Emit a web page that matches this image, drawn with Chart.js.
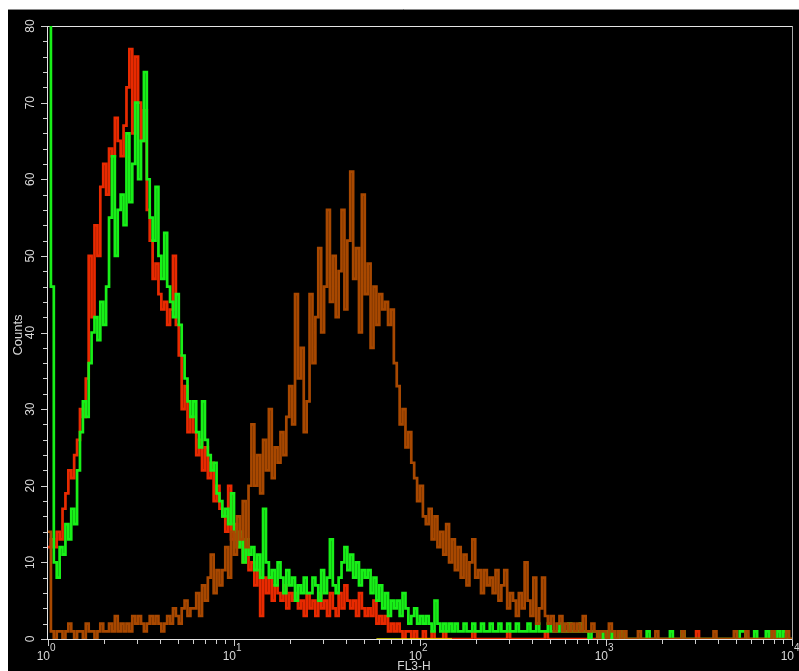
<!DOCTYPE html>
<html><head><meta charset="utf-8">
<script src="https://cdn.jsdelivr.net/npm/chart.js@4.4.1/dist/chart.umd.min.js"></script>
<style>html,body{margin:0;padding:0;background:#fff;}canvas{display:block;}</style>
</head><body>
<canvas id="c" width="799" height="671"></canvas>
<script>
// Histogram resolution: 256 channels spread over 4 log decades (10^0 .. 10^4)
const channelsPerDecade = 64;
const decadeCount = 4;
const xDecadeBase = ['10', '10', '10', '10', '10'];
const xDecadeExp = ['0', '1', '2', '3', '4'];
const yTickLabels = ['0', '10', '20', '30', '40', '50', '60', '70', '80'];
const yMax = 80;
const yMinorStep = 2;
const xTitle = 'FL3-H';
const yTitle = 'Counts';
const gateChannels = [113, 139];

const redCounts = [
  12,13,12,14,13,17,19,22,21,24,
  26,30,29,34,50,42,54,50,59,62,
  58,64,63,68,65,63,67,72,77,66,
  76,70,65,69,56,52,47,49,45,43,
  44,41,43,50,41,37,30,33,27,29,
  27,24,26,22,25,21,23,18,20,17,
  16,14,20,13,15,12,14,10,12,9,
  10,7,9,3,8,6,8,5,7,6,
  5,7,4,6,5,6,4,5,3,6,
  4,5,3,6,4,5,3,6,4,3,
  6,4,7,5,4,5,3,6,4,3,
  4,3,5,2,3,2,3,1,2,1,
  2,1,0,1,1,0,1,0,0,1,
  0,0,1,0,0,0,1,0,0,0,
  0,0,0,0,0,0,1,0,0,0,
  0,0,0,0,0,0,0,0,1,0,
  0,0,0,0,0,0,0,0,0,0,
  0,1,0,0,0,0,0,0,0,0,
  0,0,0,0,0,0,0,0,0,0,
  0,0,0,0,0,0,0,0,0,0,
  0,0,0,0,0,0,0,0,0,0,
  0,0,0,0,0,0,0,0,0,0,
  0,0,0,1,0,0,0,0,0,0,
  0,0,0,0,0,0,0,0,0,0,
  0,0,0,0,0,0,0,0,0,0,
  0,0,0,0,0,0
];

const greenCounts = [
  120,46,10,8,12,11,15,13,17,15,
  22,27,31,29,36,40,42,39,44,41,
  46,55,63,50,56,58,54,66,57,62,
  70,60,65,74,60,55,52,59,50,47,
  53,46,44,42,45,41,37,34,31,29,
  31,27,25,31,26,24,22,23,19,18,
  16,17,15,19,14,12,14,10,13,11,
  12,9,11,8,17,10,8,9,7,10,
  8,6,9,7,8,5,7,6,8,6,
  6,8,7,5,9,6,8,13,7,6,
  8,10,12,9,11,8,10,7,9,8,
  9,6,8,5,7,4,6,3,5,4,
  5,3,6,4,2,3,4,2,3,2,
  3,2,1,5,2,1,2,1,2,1,
  2,1,1,2,1,1,2,1,1,2,
  1,1,2,1,1,2,1,1,2,1,
  1,2,1,1,1,2,1,1,2,1,
  1,1,2,1,1,1,2,1,1,2,
  1,1,1,2,1,1,0,1,1,0,
  1,0,1,0,1,0,0,1,0,0,
  0,0,0,0,0,0,1,0,0,0,
  0,0,0,0,1,0,0,0,1,0,
  0,0,0,0,0,0,0,0,0,0,
  0,0,0,0,0,0,0,0,1,1,
  0,0,0,1,0,0,0,1,0,1,
  0,1,0,1,0,0
];

const brownCounts = [
  14,1,0,1,1,0,1,2,1,0,
  1,1,0,2,1,1,0,1,2,1,
  1,2,1,3,1,2,1,2,1,3,
  2,3,2,1,2,3,2,3,2,1,
  2,3,2,4,3,2,4,5,3,4,
  4,6,3,7,5,8,11,6,9,7,
  9,12,8,14,11,16,13,18,12,20,
  28,20,24,19,26,22,30,21,25,23,
  27,24,29,33,28,45,34,38,27,31,
  45,36,42,51,40,46,56,44,50,42,
  48,56,43,52,61,47,51,40,58,45,
  49,38,46,41,45,43,44,41,43,36,
  33,28,30,25,27,23,21,18,20,16,
  15,17,13,16,12,14,11,15,10,13,
  9,12,8,11,7,10,13,8,9,6,
  9,7,8,6,9,5,7,9,4,6,
  5,3,6,4,10,5,3,8,2,4,
  8,3,2,3,1,2,3,1,2,1,
  2,1,2,1,3,1,1,2,1,0,
  1,1,0,2,1,0,1,0,1,0,
  0,0,0,1,0,0,0,0,0,1,
  0,0,0,0,0,0,0,0,1,0,
  0,0,0,0,0,0,0,0,0,1,
  0,0,0,0,0,0,1,0,0,0,
  1,0,0,0,0,0,0,0,0,1,
  0,0,0,0,1,0
];

function toPoints(arr) {
  const pts = arr.map((v, i) => ({ x: i, y: v }));
  pts.push({ x: arr.length, y: arr[arr.length - 1] });
  return pts;
}

const txtColor = '#d8d8d8';
const axisColor = '#e4e4e4';
const numFont = "12px 'Liberation Sans', Arial, sans-serif";
const supFont = "10px 'Liberation Sans', Arial, sans-serif";
const titleFont = "12px 'Liberation Sans Narrow', 'Liberation Sans', Arial, sans-serif";

const decor = {
  id: 'decor',
  beforeDraw(chart) {
    const { ctx, width, height } = chart;
    ctx.save();
    ctx.fillStyle = '#fff';
    ctx.fillRect(0, 0, width, height);
    ctx.fillStyle = '#000';
    ctx.fillRect(8, 9, width - 8, height - 9);
    ctx.strokeStyle = '#8a8a8a';
    ctx.lineWidth = 1;
    ctx.beginPath(); ctx.moveTo(8, 9.5); ctx.lineTo(width, 9.5); ctx.stroke();
    ctx.restore();
  },
  beforeDatasetsDraw(chart) {
    const { ctx, chartArea: a, scales } = chart;
    const xs = scales.x, ys = scales.y;
    const ln = (x1, y1, x2, y2) => { ctx.beginPath(); ctx.moveTo(x1, y1); ctx.lineTo(x2, y2); ctx.stroke(); };
    ctx.save();
    ctx.lineWidth = 1;
    ctx.strokeStyle = axisColor;
    ln(a.left, a.top + 0.5, a.right, a.top + 0.5);
    ln(a.left - 0.5, a.top, a.left - 0.5, a.bottom + 1);
    ln(a.left - 1, a.bottom + 0.5, a.right + 1, a.bottom + 0.5);
    ctx.strokeStyle = '#a8a8a8';
    ln(a.right + 0.5, a.top, a.right + 0.5, a.bottom + 1);

    // y ticks
    ctx.strokeStyle = '#cfcfcf';
    for (let v = 0; v <= yMax; v += yMinorStep) {
      const py = Math.round(ys.getPixelForValue(v)) + 0.5;
      const len = v % 10 === 0 ? 6 : 4;
      ln(a.left - 1 - len, py, a.left - 1, py);
    }
    // x ticks
    for (let d = 0; d <= decadeCount; d++) {
      const px = Math.round(xs.getPixelForValue(d * channelsPerDecade)) + 0.5;
      ln(px, a.bottom + 1, px, a.bottom + 7);
      if (d < decadeCount) {
        for (let k = 2; k <= 9; k++) {
          const mx = Math.round(xs.getPixelForValue((d + Math.log10(k)) * channelsPerDecade)) + 0.5;
          ln(mx, a.bottom + 1, mx, a.bottom + 5);
        }
      }
    }

    // y labels (rotated)
    ctx.fillStyle = txtColor;
    ctx.font = numFont;
    ctx.textAlign = 'center';
    ctx.textBaseline = 'middle';
    yTickLabels.forEach(lab => {
      const py = ys.getPixelForValue(Number(lab));
      ctx.save();
      ctx.translate(31, py);
      ctx.rotate(-Math.PI / 2);
      ctx.fillText(lab, 0, 0);
      ctx.restore();
    });
    // y title
    ctx.save();
    ctx.font = "13px 'Liberation Sans Narrow', 'Liberation Sans', Arial, sans-serif";
    ctx.translate(18, 335);
    ctx.rotate(-Math.PI / 2);
    ctx.fillText(yTitle, 0, 0);
    ctx.restore();

    // x labels with superscripts
    ctx.textBaseline = 'alphabetic';
    xDecadeBase.forEach((base, d) => {
      const px = xs.getPixelForValue(d * channelsPerDecade);
      ctx.font = numFont;
      ctx.textAlign = 'right';
      ctx.fillText(base, px + 2, 660);
      ctx.font = supFont;
      ctx.textAlign = 'left';
      ctx.fillText(xDecadeExp[d], px + 2, 651);
    });
    // x title
    ctx.font = titleFont;
    ctx.textAlign = 'center';
    ctx.fillText(xTitle, 414, 670);
    ctx.restore();
  }
};

const common = { stepped: true, pointRadius: 0, borderWidth: 2.7, fill: false, tension: 0, borderJoinStyle: 'miter', borderCapStyle: 'butt' };

new Chart(document.getElementById('c'), {
  type: 'line',
  data: {
    datasets: [
      Object.assign({ label: 'gate', data: [{ x: gateChannels[0], y: 0 }, { x: gateChannels[1], y: 0 }], borderColor: '#e8e000', order: 0 }, common, { stepped: false, borderWidth: 1.5 }),
      Object.assign({ label: 'stained', data: toPoints(brownCounts), borderColor: '#a84800', order: 1 }, common),
      Object.assign({ label: 'control 2', data: toPoints(greenCounts), borderColor: '#18f018', order: 2 }, common),
      Object.assign({ label: 'control 1', data: toPoints(redCounts), borderColor: '#e82a00', order: 3 }, common)
    ]
  },
  options: {
    responsive: false,
    animation: false,
    devicePixelRatio: 1,
    events: [],
    layout: { padding: { left: 48, top: 26, right: 7, bottom: 32 } },
    plugins: { legend: { display: false }, tooltip: { enabled: false } },
    scales: {
      x: { type: 'linear', display: false, min: 0, max: channelsPerDecade * decadeCount },
      y: { type: 'linear', display: false, min: 0, max: yMax }
    }
  },
  plugins: [decor]
});
</script>
</body></html>
